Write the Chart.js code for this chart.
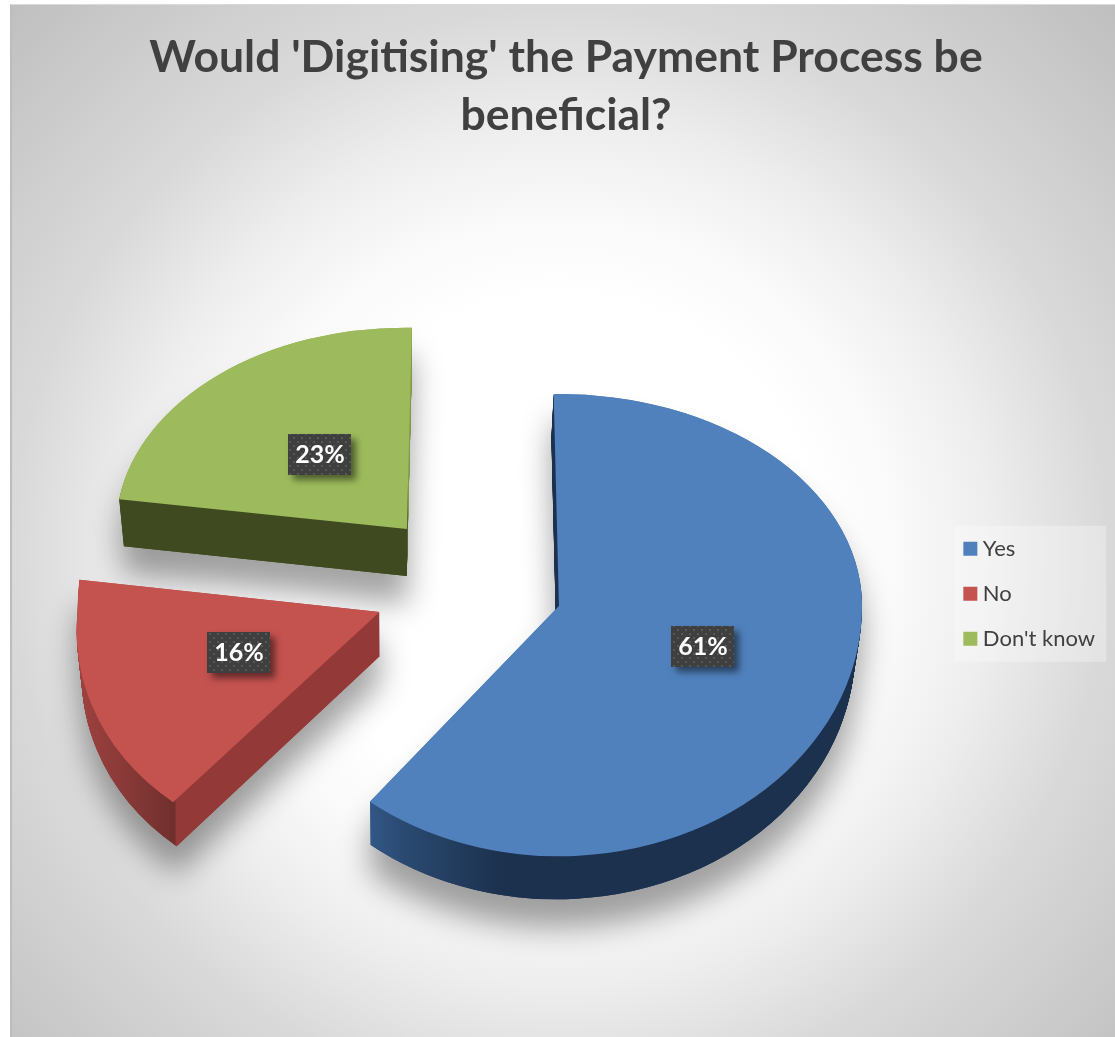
<!DOCTYPE html>
<html>
<head>
<meta charset="utf-8">
<title>Digitising the payment process</title>
<style>
  html, body { margin: 0; background: #fff; }
  canvas { display: block; }
</style>
<script src="https://cdn.jsdelivr.net/npm/chart.js@4/dist/chart.umd.min.js"></script>
</head>
<body>
<canvas id="grafica" width="1115" height="1037"></canvas>
<script>
const categories = ['Yes', 'No', "Don't know"];
const shares = [61, 16, 23];
const chartTitle = ["Would 'Digitising' the Payment Process be", 'beneficial?'];

// slice styling, same order as the categories
const sliceColors = ['#5081bd', '#c4524f', '#9dbb5c'];
const sideColors = [
    [[366, '#33598a'], [400, '#2b4b72'], [500, '#1c314e'], [860, '#1c314e']],
    [[76, '#a04240'], [150, '#7c3533'], [175, '#6f2f2d'], [176, '#933a38'], [385, '#933a38']],
    [[120, '#404a20'], [407, '#404a20'], [408.5, '#7f9a48'], [420, '#7f9a48']],
];
const explode = [93, 99, 95];
const spread = [1.017, 1.013, 0.975];
const upperTilt = [0.711, 1.0, 0.675];
const lowerTilt = [0.84, 0.817, 0.8];
const upperLean = [0, 0, -0.05];
const lowerLean = [0, -0.095, 0];
const roll = [0, 0, 0.028];
const depth = [43, 44, 47];
const labelNudge = [[0, 0], [2, -7], [6, 2]];

const pieTilt = 0.76;
const pieShift = { x: -15.5, y: -11 };
const vanishX = 400;

function apexOf(arc, i) {
    const mid = (arc.startAngle + arc.endAngle) / 2;
    return {
        x: arc.x + pieShift.x + Math.cos(mid) * explode[i],
        y: Math.round(arc.y + pieShift.y + Math.sin(mid) * explode[i] * pieTilt),
    };
}

// draws one slice flattened on its tilted plane, moved down by "drop"
function drawFlat(ctx, arc, i, drop) {
    const apex = apexOf(arc, i);
    const squeeze = 1 - drop * 0.00035;
    const w = ctx.canvas.width;
    const h = ctx.canvas.height;
    [0, 1].forEach(half => {
        const cut = apex.y + drop;
        ctx.save();
        ctx.beginPath();
        if (half === 0) ctx.rect(0, 0, w, cut);
        else ctx.rect(0, cut, w, h - cut);
        ctx.clip();
        ctx.translate(vanishX, 0);
        ctx.scale(squeeze, 1);
        ctx.translate(-vanishX, 0);
        ctx.translate(apex.x, apex.y + drop);
        ctx.transform(1, roll[i], half === 0 ? upperLean[i] : lowerLean[i], 1, 0, 0);
        ctx.scale(spread[i], half === 0 ? upperTilt[i] : lowerTilt[i]);
        ctx.translate(-arc.x, -arc.y);
        arc.draw(ctx);
        ctx.restore();
    });
}

function buildSliceLayer(arc, i, w, h) {
    const layer = document.createElement('canvas');
    layer.width = w;
    layer.height = h;
    const lctx = layer.getContext('2d');
    for (let drop = depth[i]; drop >= 1; drop--) {
        drawFlat(lctx, arc, i, drop);
    }
    // recolour the stacked copies as the side walls
    const stops = sideColors[i];
    const x0 = stops[0][0];
    const x1 = stops[stops.length - 1][0];
    const side = lctx.createLinearGradient(x0, 0, x1, 0);
    stops.forEach(s => side.addColorStop((s[0] - x0) / (x1 - x0), s[1]));
    lctx.globalCompositeOperation = 'source-in';
    lctx.fillStyle = side;
    lctx.fillRect(0, 0, w, h);
    lctx.globalCompositeOperation = 'source-over';
    drawFlat(lctx, arc, i, 0);
    return layer;
}

function dottedFill(ctx) {
    const tile = document.createElement('canvas');
    tile.width = 8;
    tile.height = 8;
    const t = tile.getContext('2d');
    t.fillStyle = '#3f3f3f';
    t.fillRect(0, 0, 8, 8);
    t.fillStyle = '#575757';
    t.fillRect(1, 1, 2, 2);
    t.fillRect(5, 5, 2, 2);
    return ctx.createPattern(tile, 'repeat');
}

function drawValueLabel(ctx, arc, i) {
    const apex = apexOf(arc, i);
    const center = arc.getCenterPoint();
    const up = center.y < arc.y;
    const dx = (center.x - arc.x) * spread[i];
    const dy = (center.y - arc.y) * (up ? upperTilt[i] : lowerTilt[i]);
    const x = Math.round(apex.x + dx + dy * (up ? upperLean[i] : lowerLean[i]) + labelNudge[i][0]);
    const y = Math.round(apex.y + dy + dx * roll[i] + labelNudge[i][1]);
    ctx.save();
    ctx.shadowColor = 'rgba(0,0,0,0.5)';
    ctx.shadowBlur = 7;
    ctx.shadowOffsetX = 5;
    ctx.shadowOffsetY = 5;
    ctx.fillStyle = dottedFill(ctx);
    ctx.fillRect(x - 31, y - 20, 63, 41);
    ctx.restore();
    ctx.fillStyle = '#fff';
    ctx.font = 'bold 25px Lato';
    ctx.textAlign = 'center';
    ctx.textBaseline = 'middle';
    ctx.fillText(shares[i] + '%', x + 1, y + 1);
}

const panelBackground = {
    id: 'panelBackground',
    beforeDraw(chart) {
        const ctx = chart.ctx;
        const w = chart.width;
        const h = chart.height;
        const glow = ctx.createRadialGradient(560, 555, 0, 560, 555, 780);
        glow.addColorStop(0, '#ffffff');
        glow.addColorStop(0.33, '#ffffff');
        glow.addColorStop(0.43, '#fafafa');
        glow.addColorStop(0.55, '#eeeeee');
        glow.addColorStop(0.7, '#d9d9d9');
        glow.addColorStop(1, '#bfbfbf');
        ctx.save();
        ctx.fillStyle = '#fff';
        ctx.fillRect(0, 0, w, h);
        ctx.fillStyle = glow;
        ctx.fillRect(10, 4, w - 10, h - 4);
        ctx.fillStyle = '#bdbdbd';
        ctx.fillRect(10, 4, 2, h - 4);
        ctx.fillStyle = '#dadada';
        ctx.fillRect(10, 4, w - 10, 1);
        // pale backdrop behind the legend
        const items = chart.legend.legendHitBoxes;
        const first = items[0];
        const last = items[items.length - 1];
        ctx.fillStyle = 'rgba(255,255,255,0.3)';
        ctx.fillRect(first.left - 14.5, first.top - 12, 152, last.top + last.height - first.top + 24);
        ctx.restore();
    },
};

const tiltedPie = {
    id: 'tiltedPie',
    beforeDatasetsDraw(chart) {
        const ctx = chart.ctx;
        const arcs = chart.getDatasetMeta(0).data;
        const layers = arcs.map((arc, i) => buildSliceLayer(arc, i, chart.width, chart.height));
        // shadows first so that no slice darkens its neighbour
        ctx.save();
        ctx.shadowColor = 'rgba(0,0,0,0.36)';
        ctx.shadowBlur = 30;
        ctx.shadowOffsetY = 28;
        layers.forEach(layer => ctx.drawImage(layer, 0, 0));
        ctx.restore();
        layers.forEach(layer => ctx.drawImage(layer, 0, 0));
        arcs.forEach((arc, i) => drawValueLabel(ctx, arc, i));
        return false;
    },
};

new Chart(document.getElementById('grafica'), {
    type: 'pie',
    data: {
        labels: categories,
        datasets: [{
            data: shares,
            backgroundColor: sliceColors,
            borderWidth: 0,
        }],
    },
    plugins: [panelBackground, tiltedPie],
    options: {
        responsive: false,
        animation: false,
        rotation: -1,
        radius: 298,
        layout: { padding: { left: 27, right: 10, top: 0, bottom: 15 } },
        plugins: {
            title: {
                display: true,
                text: chartTitle,
                color: '#404040',
                font: { family: 'Lato', size: 44.5, weight: 'bold', lineHeight: 1.32 },
                padding: { top: 28, bottom: 20 },
            },
            legend: {
                position: 'right',
                fullSize: false,
                labels: {
                    color: '#404040',
                    font: { family: 'Lato', size: 22 },
                    usePointStyle: true,
                    pointStyle: 'rect',
                    boxWidth: 3,
                    boxHeight: 14,
                    padding: 23,
                },
            },
            tooltip: { enabled: false },
        },
    },
});
</script>
</body>
</html>
